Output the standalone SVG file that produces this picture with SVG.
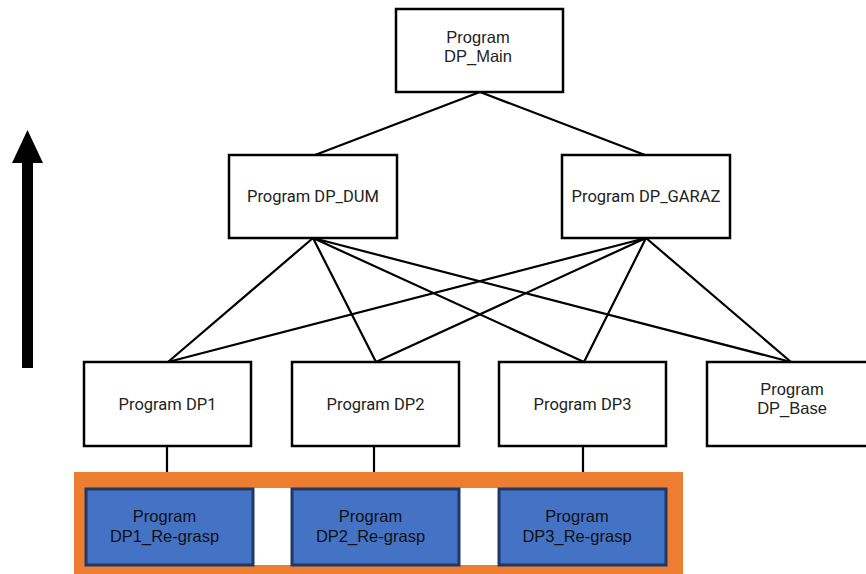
<svg xmlns="http://www.w3.org/2000/svg" width="866" height="574" viewBox="0 0 866 574">
<style>
.box{fill:#fff;stroke:#000;stroke-width:2.5}
.blue{fill:#4472C4;stroke:#1F3864;stroke-width:3}
.ln{stroke:#000;stroke-width:2.2;fill:none}
.ta{font-family:"Liberation Sans",Arial,sans-serif;font-size:16.5px;fill:#222;text-anchor:middle}
.tr{font-family:Roboto,"Liberation Sans",sans-serif;font-size:16.5px;fill:#222;text-anchor:middle}
.tb{font-family:"Liberation Sans",Arial,sans-serif;font-size:16.5px;fill:#111;text-anchor:middle}
</style>
<rect width="866" height="574" fill="#fff"/>
<g id="connectors">
<path class="ln" d="M480,92 L315,155 M480,92 L645,155"/>
<path class="ln" d="M313,238 L168,362 M313,238 L376,362 M313,238 L584,362 M313,238 L791,362"/>
<path class="ln" d="M646,238 L168,362 M646,238 L376,362 M646,238 L584,362 M646,238 L791,362"/>
<path class="ln" d="M167,446 V473 M374,446 V473 M583,446 V473"/>
</g>
<g id="arrow">
<rect x="22" y="160" width="11" height="208" fill="#000"/>
<polygon points="27.5,130 43,163 12,163" fill="#000"/>
</g>
<g id="node-main">
<rect class="box" x="396" y="9" width="167" height="83"/>
<text class="ta" x="478" y="43">Program</text>
<text class="ta" x="478" y="62">DP_Main</text>
</g>
<g id="node-dum">
<rect class="box" x="229" y="155" width="168" height="83"/>
<text class="tr" x="313" y="202">Program DP_DUM</text>
</g>
<g id="node-garaz">
<rect class="box" x="562" y="155" width="168" height="83"/>
<text class="tr" x="646" y="202">Program DP_GARAZ</text>
</g>
<g id="node-dp1">
<rect class="box" x="84" y="362" width="167" height="84"/>
<text class="tr" x="167.5" y="410">Program DP1</text>
</g>
<g id="node-dp2">
<rect class="box" x="292" y="362" width="167" height="84"/>
<text class="tr" x="375.5" y="410">Program DP2</text>
</g>
<g id="node-dp3">
<rect class="box" x="499" y="362" width="167" height="84"/>
<text class="tr" x="582.5" y="410">Program DP3</text>
</g>
<g id="node-base">
<rect class="box" x="707" y="362" width="170" height="84"/>
<text class="ta" x="792" y="395">Program</text>
<text class="ta" x="792" y="414">DP_Base</text>
</g>
<g id="group-regrasp">
<rect x="74" y="472" width="609" height="102" fill="#ED7D31"/>
<rect x="85" y="488" width="582" height="77" fill="#fff"/>
</g>
<g id="node-dp1-regrasp">
<rect class="blue" x="86" y="489" width="167" height="76"/>
<text class="tb" x="164.5" y="522">Program</text>
<text class="tb" x="164.5" y="542">DP1_Re-grasp</text>
</g>
<g id="node-dp2-regrasp">
<rect class="blue" x="292" y="489" width="167" height="76"/>
<text class="tb" x="370.5" y="522">Program</text>
<text class="tb" x="370.5" y="542">DP2_Re-grasp</text>
</g>
<g id="node-dp3-regrasp">
<rect class="blue" x="499" y="489" width="167" height="76"/>
<text class="tb" x="577" y="522">Program</text>
<text class="tb" x="577" y="542">DP3_Re-grasp</text>
</g>
</svg>
